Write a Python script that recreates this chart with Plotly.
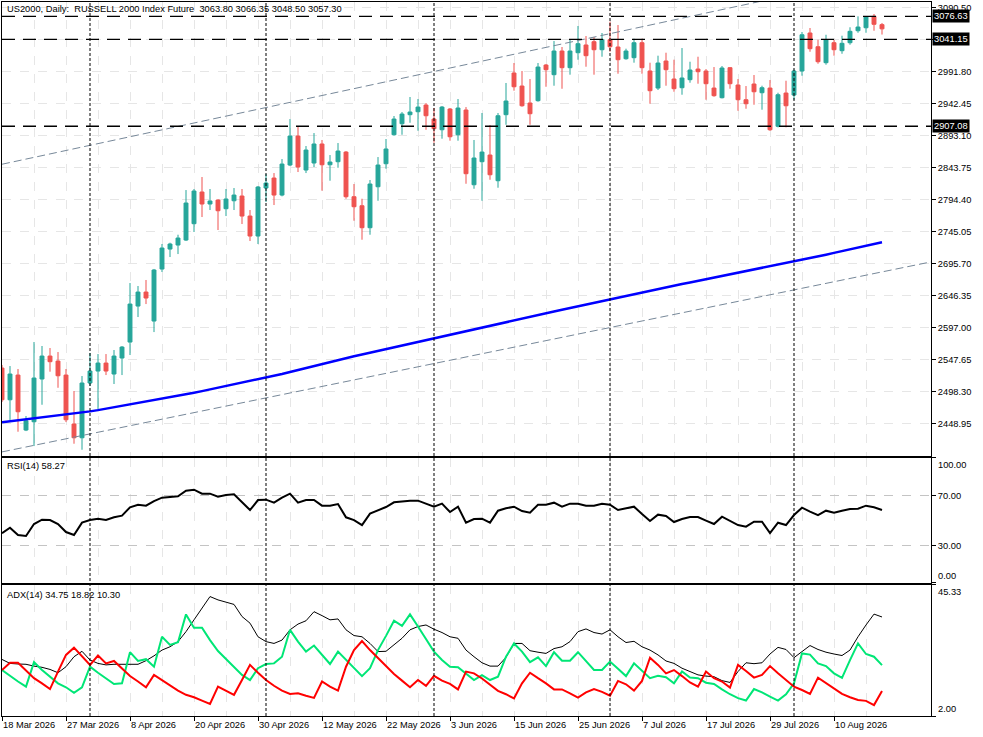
import plotly.graph_objs as go
from plotly.subplots import make_subplots

# US2000 daily bars, oldest first
opens = [2534.2, 2485.3, 2523.4, 2438.6, 2451.4, 2517.3, 2552.7, 2545.0, 2523.4, 2447.9,
         2426.7, 2511.1, 2529.6, 2541.9, 2525.0, 2549.7, 2574.3, 2629.8, 2651.4, 2606.7,
         2686.9, 2717.7, 2723.9, 2731.6, 2756.8, 2805.7, 2787.2, 2793.3, 2779.9, 2792.2,
         2799.5, 2768.6, 2737.8, 2811.8, 2827.2, 2801.0, 2847.3, 2892.0, 2839.6, 2850.4,
         2879.7, 2847.7, 2852.4, 2867.3, 2798.4, 2784.5, 2750.6, 2813.8, 2849.3, 2894.0,
         2911.0, 2924.9, 2929.5, 2939.8, 2918.2, 2901.7, 2933.7, 2894.0, 2932.1, 2816.9,
         2852.4, 2862.7, 2823.1, 2924.9, 2989.2, 2969.1, 2942.9, 2946.5, 3001.5, 2986.6,
         3023.1, 2997.4, 3020.5, 3032.4, 3037.5, 3025.1, 3040.5, 3029.3, 3011.2, 3012.8,
         3035.9, 2992.3, 2966.0, 3007.7, 2979.9, 2966.5, 2978.9, 2995.3, 2992.3, 2966.0,
         2951.1, 2997.4, 2970.7, 2948.0, 2972.2, 2958.8, 2966.0, 2907.0, 2958.3, 2955.2,
         2992.3, 3050.9, 3029.7, 3005.1, 3035.9, 3023.6, 3035.9, 3054.4, 3059.0, 3076.6,
         3063.80]
highs = [2538.9, 2537.3, 2532.7, 2460.2, 2574.3, 2568.2, 2565.1, 2558.9, 2532.7, 2498.8,
         2521.9, 2557.4, 2555.8, 2555.8, 2562.0, 2568.2, 2665.3, 2660.7, 2670.0, 2687.0,
         2725.5, 2727.5, 2739.8, 2808.7, 2810.3, 2828.8, 2810.3, 2794.5, 2810.3, 2811.8,
         2810.3, 2777.9, 2814.9, 2833.4, 2834.9, 2856.5, 2918.2, 2907.4, 2876.6, 2896.6,
         2885.9, 2862.7, 2881.2, 2868.9, 2818.0, 2795.3, 2824.2, 2859.6, 2887.4, 2922.9,
         2929.0, 2952.2, 2949.1, 2942.9, 2935.2, 2938.3, 2935.2, 2949.1, 2936.7, 2885.9,
         2927.5, 2909.0, 2927.5, 2973.8, 3004.6, 2992.3, 2979.9, 3004.6, 3003.1, 3038.5,
         3029.3, 3040.5, 3061.7, 3046.2, 3044.7, 3050.9, 3068.3, 3063.2, 3026.7, 3042.1,
         3042.1, 3005.1, 3015.9, 3020.5, 3009.7, 3027.7, 3006.6, 3014.3, 2995.3, 2998.4,
         3000.0, 2998.4, 2979.9, 2969.1, 2986.1, 2969.6, 2978.4, 2958.8, 2977.3, 2994.3,
         3052.4, 3058.6, 3040.5, 3048.2, 3040.5, 3046.7, 3059.7, 3076.6, 3076.6, 3080.2,
         3066.35]
lows = [2481.8, 2454.0, 2436.0, 2437.0, 2413.9, 2477.6, 2528.6, 2503.8, 2450.9, 2417.5,
        2408.2, 2506.5, 2467.9, 2523.4, 2509.6, 2523.4, 2554.3, 2612.9, 2632.9, 2589.7,
        2682.3, 2705.4, 2710.0, 2730.1, 2744.0, 2767.1, 2777.9, 2747.1, 2768.6, 2777.9,
        2756.3, 2730.1, 2725.5, 2790.3, 2785.6, 2799.0, 2845.7, 2836.5, 2834.9, 2844.2,
        2807.7, 2823.1, 2843.1, 2795.3, 2761.4, 2732.1, 2739.8, 2792.2, 2841.6, 2892.5,
        2894.0, 2912.5, 2900.2, 2901.7, 2881.7, 2887.9, 2884.8, 2884.8, 2818.4, 2810.7,
        2792.2, 2824.6, 2812.3, 2909.4, 2961.9, 2937.2, 2909.4, 2945.0, 2968.0, 2969.6,
        2964.9, 2986.6, 3009.7, 2998.9, 2986.6, 3014.3, 3022.0, 2988.1, 3009.7, 3005.1,
        2988.1, 2941.8, 2963.0, 2969.6, 2960.3, 2955.7, 2974.2, 2972.7, 2948.0, 2952.6,
        2950.0, 2964.9, 2931.0, 2934.1, 2940.3, 2932.6, 2900.0, 2905.4, 2905.4, 2948.0,
        2985.0, 3022.0, 3003.5, 3002.0, 3015.9, 3018.9, 3032.8, 3051.3, 3051.3, 3054.4,
        3048.50]
closes = [2485.3, 2525.0, 2466.8, 2452.9, 2518.8, 2552.7, 2544.0, 2522.3, 2454.5, 2426.7,
          2511.1, 2529.6, 2541.9, 2529.6, 2552.7, 2566.6, 2632.9, 2651.4, 2642.2, 2685.4,
          2719.3, 2725.5, 2734.7, 2788.7, 2807.2, 2787.2, 2791.8, 2776.8, 2794.9, 2801.0,
          2768.6, 2737.8, 2813.4, 2819.5, 2801.0, 2848.8, 2892.0, 2844.2, 2870.4, 2879.7,
          2847.7, 2851.9, 2868.9, 2798.4, 2783.0, 2750.6, 2818.0, 2847.3, 2872.0, 2918.2,
          2925.9, 2929.0, 2936.7, 2923.3, 2903.3, 2936.7, 2890.9, 2935.2, 2833.9, 2858.1,
          2867.3, 2832.3, 2923.3, 2946.0, 2968.0, 2938.7, 2926.4, 2998.4, 2994.3, 3023.1,
          2997.4, 3023.1, 3034.4, 3015.9, 3025.1, 3040.5, 3029.7, 3009.7, 3023.1, 3035.9,
          2997.4, 2961.9, 3004.6, 2994.3, 2965.0, 2981.5, 2993.8, 2991.2, 2972.7, 2954.2,
          2996.9, 2972.7, 2948.0, 2941.8, 2960.3, 2966.5, 2901.7, 2955.7, 2938.7, 2992.3,
          3048.2, 3026.7, 3006.6, 3040.5, 3025.1, 3035.0, 3053.5, 3060.1, 3075.5, 3064.3,
          3057.30]

# moving average (blue)
ma_line = [2450.5, 2452.0, 2453.3, 2454.8, 2456.1, 2457.8, 2459.2, 2460.6, 2462.1, 2463.6,
           2465.2, 2467.4, 2469.3, 2471.5, 2473.7, 2475.6, 2477.9, 2480.1, 2482.0, 2484.1,
           2486.4, 2488.6, 2491.1, 2493.5, 2496.1, 2498.6, 2501.2, 2503.7, 2506.2, 2508.7,
           2511.2, 2513.7, 2516.2, 2518.8, 2521.9, 2525.0, 2528.2, 2531.3, 2534.5, 2537.5,
           2540.8, 2544.1, 2546.9, 2549.7, 2552.4, 2555.2, 2558.0, 2560.8, 2563.6, 2566.4,
           2569.1, 2571.9, 2574.7, 2577.5, 2580.3, 2583.0, 2585.8, 2588.5, 2591.3, 2594.0,
           2596.7, 2599.5, 2602.2, 2604.9, 2607.7, 2610.4, 2613.2, 2615.9, 2618.6, 2621.4,
           2624.1, 2626.8, 2629.6, 2632.3, 2635.1, 2637.8, 2640.5, 2643.2, 2645.9, 2648.6,
           2651.3, 2654.0, 2656.4, 2658.9, 2661.3, 2663.8, 2666.2, 2668.7, 2671.1, 2673.6,
           2676.0, 2678.5, 2680.9, 2683.4, 2685.8, 2688.3, 2690.7, 2693.2, 2695.6, 2698.1,
           2700.8, 2703.6, 2706.3, 2709.0, 2711.8, 2714.5, 2717.2, 2720.0, 2722.7, 2725.4,
           2728.1]

rsi = [39.6, 44.1, 38.2, 37.4, 47.0, 50.5, 50.2, 47.0, 40.6, 38.2,
       48.1, 50.2, 51.3, 50.2, 52.4, 53.7, 60.4, 62.5, 61.7, 65.4,
       68.1, 68.6, 69.2, 73.7, 74.5, 71.3, 71.3, 68.9, 70.2, 70.8,
       64.4, 58.2, 66.2, 66.5, 64.1, 68.1, 71.3, 64.1, 66.2, 66.2,
       61.7, 61.7, 63.0, 52.4, 50.2, 46.2, 55.3, 58.0, 60.6, 64.4,
       65.2, 65.7, 65.7, 63.6, 60.9, 63.3, 56.6, 60.9, 48.1, 51.0,
       51.3, 48.1, 57.7, 59.6, 60.9, 57.4, 56.1, 62.5, 62.5, 64.1,
       60.9, 63.3, 63.3, 61.7, 61.7, 63.3, 62.5, 58.2, 59.3, 60.9,
       55.0, 49.4, 54.5, 53.4, 48.6, 51.0, 52.6, 52.6, 49.7, 47.0,
       52.9, 49.4, 46.2, 44.9, 48.9, 48.9, 39.8, 48.1, 46.2, 54.2,
       60.1, 56.9, 54.2, 57.7, 56.1, 57.7, 59.0, 59.3, 61.7, 60.4,
       58.27]

adx = [20.7, 19.4, 19.2, 19.1, 18.5, 18.1, 17.4, 16.3, 18.3, 21.6,
       23.4, 20.5, 19.4, 18.9, 19.1, 19.1, 19.1, 19.1, 20.3, 21.9,
       23.8, 24.9, 26.6, 29.9, 33.8, 37.6, 41.5, 40.4, 39.6, 38.9,
       34.9, 32.7, 28.2, 26.6, 26.0, 27.1, 30.5, 32.4, 33.5, 36.5,
       35.2, 33.8, 34.1, 30.5, 28.6, 28.2, 26.0, 23.3, 23.4, 25.5,
       27.7, 30.5, 31.6, 32.1, 30.7, 29.6, 28.2, 27.7, 23.8, 21.6,
       19.6, 18.5, 18.5, 21.4, 26.0, 26.0, 23.6, 23.1, 22.7, 24.3,
       24.9, 26.6, 29.9, 30.8, 29.6, 29.1, 30.5, 28.2, 26.3, 26.7,
       24.9, 23.8, 22.2, 20.2, 19.4, 17.8, 16.7, 15.6, 15.2, 15.0,
       13.7, 13.1, 16.7, 19.6, 19.3, 19.6, 22.5, 24.7, 24.0, 21.3,
       23.3, 25.3, 24.0, 23.1, 22.5, 22.0, 23.8, 28.2, 32.1, 35.7,
       34.75]
plus_di = [17.2, 15.2, 13.4, 11.7, 19.8, 17.2, 15.0, 12.8, 11.5, 9.7,
           11.5, 18.3, 16.3, 14.5, 12.6, 12.8, 23.1, 20.2, 20.8, 18.3,
           28.2, 25.5, 26.4, 35.6, 31.2, 31.2, 27.1, 23.5, 20.8, 18.1,
           15.6, 13.9, 17.8, 19.2, 19.4, 21.6, 30.5, 26.6, 23.3, 25.3,
           22.4, 19.2, 23.3, 20.5, 17.8, 15.2, 17.8, 23.8, 28.5, 33.5,
           31.8, 35.6, 31.6, 27.4, 23.3, 20.5, 18.3, 18.1, 15.9, 13.9,
           15.5, 13.9, 15.0, 21.6, 26.0, 23.3, 19.8, 21.4, 18.5, 23.1,
           20.3, 20.3, 23.1, 20.2, 17.2, 17.2, 20.0, 17.6, 15.2, 19.4,
           17.0, 14.5, 15.3, 14.8, 12.8, 16.7, 14.7, 14.5, 13.0, 12.6,
           10.8, 9.2, 7.9, 7.1, 10.9, 9.8, 8.4, 7.1, 9.2, 12.8,
           22.7, 22.3, 19.4, 18.5, 16.1, 14.6, 20.5, 26.0, 22.5, 21.6,
           18.82]
minus_di = [17.2, 19.6, 19.6, 17.0, 14.5, 12.8, 10.9, 16.7, 22.2, 24.6,
            21.9, 18.9, 22.0, 19.4, 20.2, 17.8, 15.2, 13.4, 11.5, 15.6,
            13.9, 12.0, 10.4, 9.0, 8.2, 7.1, 6.0, 11.7, 10.4, 9.0,
            13.9, 18.9, 16.3, 13.9, 12.0, 10.4, 9.3, 9.5, 8.7, 8.0,
            13.4, 11.7, 10.4, 18.3, 23.8, 26.8, 23.8, 21.1, 18.3, 15.9,
            13.7, 11.5, 13.9, 12.0, 15.3, 13.7, 12.6, 10.8, 16.7, 16.1,
            14.4, 12.3, 10.3, 9.2, 7.8, 12.8, 16.3, 14.5, 12.8, 10.8,
            10.8, 9.5, 8.1, 9.8, 10.9, 10.0, 8.7, 13.6, 12.5, 10.4,
            13.6, 21.3, 18.9, 16.1, 17.2, 15.2, 13.1, 11.7, 16.7, 14.5,
            13.4, 11.4, 18.9, 16.9, 14.7, 15.6, 18.5, 16.1, 13.9, 11.7,
            10.6, 9.3, 14.7, 12.8, 10.9, 9.3, 8.2, 7.3, 7.0, 5.6,
            10.30]

date_bars = [0, 8, 16, 24, 32, 40, 48, 56, 64, 72, 80, 88, 96, 104]
date_labels = ['18 Mar 2026', '27 Mar 2026', '8 Apr 2026', '20 Apr 2026', '30 Apr 2026',
               '12 May 2026', '22 May 2026', '3 Jun 2026', '15 Jun 2026', '25 Jun 2026',
               '7 Jul 2026', '17 Jul 2026', '29 Jul 2026', '10 Aug 2026']
price_ticks = [2448.95, 2498.30, 2547.65, 2597.00, 2646.35, 2695.70, 2745.05,
               2794.40, 2843.75, 2893.10, 2942.45, 2991.80, 3041.15, 3090.50]

levels = [3076.63, 3041.15, 2907.08]
vline_bars = [11, 33, 54, 76, 99]
# channel trend lines (two anchors each)
upper_x = [0, 116.2]
upper_y = [2848.5, 3156.4]
lower_x = [0, 116.2]
lower_y = [2404.9, 2698.1]

font = 'Liberation Sans'
fs = 9.3
bars = list(range(len(closes)))

fig = make_subplots(rows=3, cols=1, shared_xaxes=True, vertical_spacing=0.01)

fig.add_trace(go.Scatter(x=upper_x, y=upper_y, mode='lines',
                         line=dict(color='#778899', width=1, dash='8px,4px')), row=1, col=1)
fig.add_trace(go.Scatter(x=lower_x, y=lower_y, mode='lines',
                         line=dict(color='#778899', width=1, dash='8px,4px')), row=1, col=1)
fig.add_trace(go.Scatter(x=bars, y=ma_line, mode='lines',
                         line=dict(color='#0000ff', width=2.5)), row=1, col=1)
fig.add_trace(go.Candlestick(x=bars, open=opens, high=highs, low=lows, close=closes,
                             increasing=dict(line=dict(color='#26a69a', width=1), fillcolor='#26a69a'),
                             decreasing=dict(line=dict(color='#ef5350', width=1), fillcolor='#ef5350')),
              row=1, col=1)

fig.add_trace(go.Scatter(x=bars, y=rsi, mode='lines',
                         line=dict(color='black', width=2)), row=2, col=1)

fig.add_trace(go.Scatter(x=bars, y=adx, mode='lines',
                         line=dict(color='black', width=1)), row=3, col=1)
fig.add_trace(go.Scatter(x=bars, y=plus_di, mode='lines',
                         line=dict(color='#00e676', width=2)), row=3, col=1)
fig.add_trace(go.Scatter(x=bars, y=minus_di, mode='lines',
                         line=dict(color='#ff0000', width=2)), row=3, col=1)

minor_bars = [b + 4 for b in date_bars]
grid_col = '#e6e6e6'
for i in (1, 2, 3):
    fig.update_xaxes(row=i, col=1, range=[0, 116.125], showline=True, linecolor='black',
                     linewidth=1, mirror=True, tickmode='array', tickvals=date_bars,
                     showgrid=True, gridcolor=grid_col, griddash='dash', zeroline=False,
                     minor=dict(tickmode='array', tickvals=minor_bars, showgrid=True,
                                gridcolor=grid_col, griddash='dash', ticks=''))
fig.update_xaxes(row=3, col=1, ticktext=date_labels, ticks='outside', ticklen=4,
                 tickcolor='black', ticklabelposition='outside right',
                 tickfont=dict(family=font, size=fs, color='black'))
fig.update_xaxes(row=1, col=1, rangeslider=dict(visible=False))

axis_common = dict(side='right', showline=True, linecolor='black', linewidth=1, mirror=True,
                   ticks='outside', ticklen=4, tickcolor='black', zeroline=False,
                   tickfont=dict(family=font, size=fs, color='black'))
# the 3041.15 tick sits under the level box, so its own text is left blank
price_text = ['' if v in levels else '%.2f' % v for v in price_ticks]
fig.update_yaxes(row=1, col=1, domain=[0.3648, 1.0], range=[2399.3, 3098.7],
                 tickmode='array', tickvals=price_ticks, ticktext=price_text,
                 showgrid=True, gridcolor=grid_col, griddash='dash', **axis_common)
fig.update_yaxes(row=2, col=1, domain=[0.1866, 0.3616], range=[0, 100],
                 tickmode='array', tickvals=[0, 30, 70, 100], ticktext=['', '30.00', '70.00', ''],
                 showgrid=True, gridcolor='#c4c4c4', griddash='dash', **axis_common)
fig.update_yaxes(row=3, col=1, domain=[0, 0.1835], range=[2, 45.33],
                 tickmode='array', tickvals=[2, 45.33], ticktext=['', ''],
                 showgrid=False, **axis_common)

shapes = []
for lv in levels:
    shapes.append(dict(type='line', xref='x domain', yref='y', x0=0, x1=1, y0=lv, y1=lv,
                       line=dict(color='black', width=1.3, dash='13px,8px')))
for b in vline_bars:
    shapes.append(dict(type='line', xref='x', yref='paper', x0=b, x1=b, y0=0, y1=1,
                       line=dict(color='black', width=1, dash='3px,2px')))

annotations = []
for lv in levels:
    annotations.append(dict(xref='paper', x=1, xanchor='left', xshift=1, yref='y', y=lv,
                            text='%.2f' % lv, showarrow=False, bgcolor='black', borderpad=1,
                            font=dict(family=font, size=fs, color='white')))
edge_labels = [('y2', 100, '100.00', 'top'), ('y2', 0, '0.00', 'bottom'),
               ('y3', 45.33, '45.33', 'top'), ('y3', 2, '2.00', 'bottom')]
for ref, val, txt, anchor in edge_labels:
    annotations.append(dict(xref='paper', x=1, xanchor='left', xshift=5, yref=ref, y=val,
                            yanchor=anchor, text=txt, showarrow=False,
                            font=dict(family=font, size=fs, color='black')))
titles = [(0.990, 'US2000, Daily:  RUSSELL 2000 Index Future  3063.80 3066.35 3048.50 3057.30'),
          (0.3501, 'RSI(14) 58.27'),
          (0.1695, 'ADX(14) 34.75 18.82 10.30')]
for ty, txt in titles:
    annotations.append(dict(xref='paper', x=0, xanchor='left', xshift=3, yref='paper', y=ty,
                            yanchor='middle', text=txt, showarrow=False,
                            font=dict(family=font, size=fs, color='black')))

fig.update_layout(width=983, height=737, showlegend=False,
                  margin=dict(l=2, r=52, t=2, b=21, autoexpand=False),
                  paper_bgcolor='white', plot_bgcolor='white',
                  shapes=shapes, annotations=annotations)

# drop the browser's default 8px body margin so the chart sits at the page corner
fig.write_html('out.html', config={'displayModeBar': False},
               post_script="document.body.style.margin='0';")
